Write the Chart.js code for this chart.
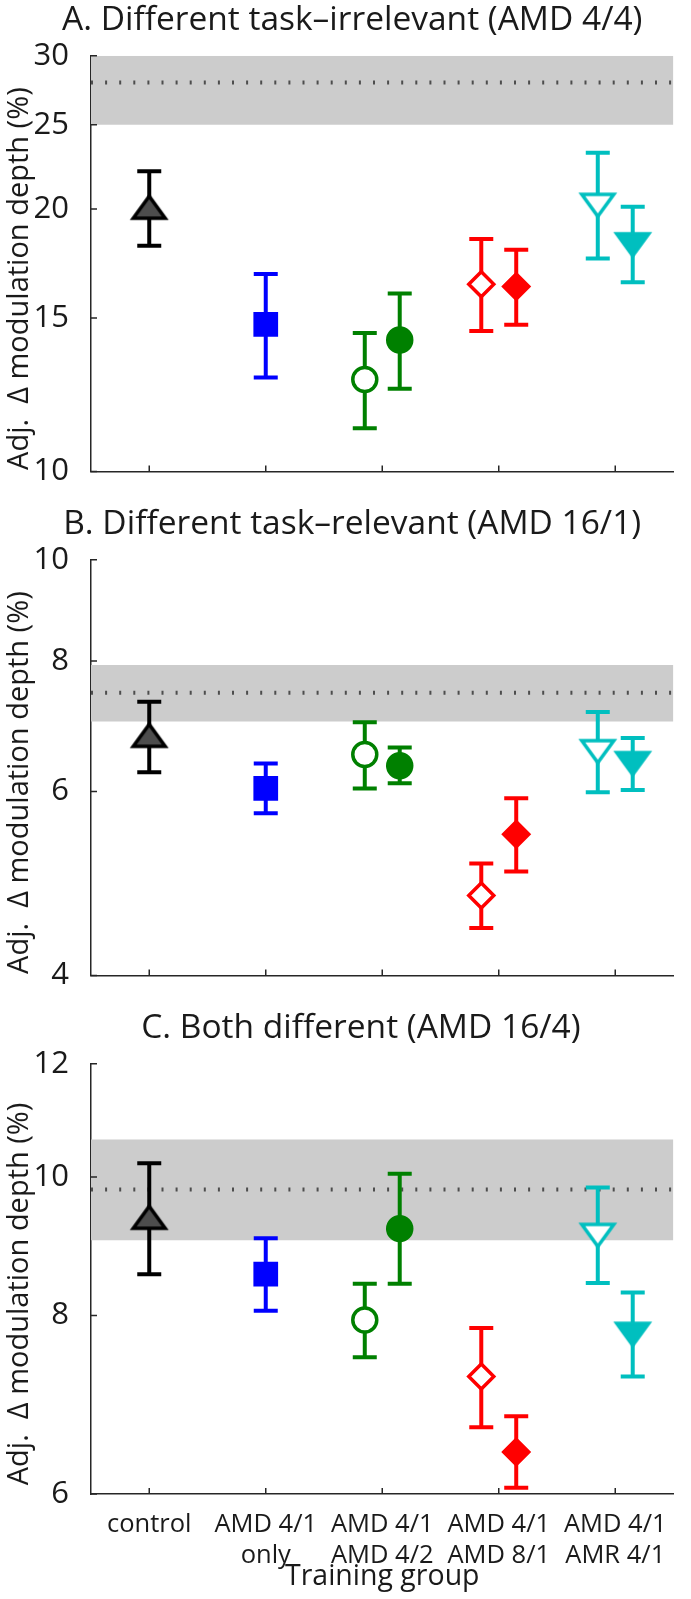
<!DOCTYPE html>
<html>
<head>
<meta charset="utf-8">
<script src="https://cdn.jsdelivr.net/npm/chart.js@4.4.1/dist/chart.umd.min.js"></script>
<style>
  body { margin: 0; background: #fff; width: 691px; height: 1599px; position: relative; overflow: hidden; }
  .panel { position: absolute; left: 0; width: 691px; }
</style>
</head>
<body>
<div class="panel" style="top:0;height:504px"><canvas id="chartA"></canvas></div>
<div class="panel" style="top:504px;height:504px"><canvas id="chartB"></canvas></div>
<div class="panel" style="top:1008px;height:591px"><canvas id="chartC"></canvas></div>
<script>
// categories (x = 1..5), markers sit at group + shift
const groupLabels = ["control", ["AMD 4/1", "only"], ["AMD 4/1", "AMD 4/2"], ["AMD 4/1", "AMD 8/1"], ["AMD 4/1", "AMR 4/1"]];
const markerGroup = [1, 2, 3, 3, 4, 4, 5, 5];
const markerShift = [0, 0, -0.15, 0.15, -0.15, 0.15, -0.15, 0.15];

// A. Different task-irrelevant (AMD 4/4)
const meanA = [20.1, 14.75, 12.75, 14.15, 16.4, 16.3, 20.2, 18.2];
const lowA = [18.16, 12.82, 11.21, 12.44, 14.49, 14.73, 17.55, 16.49];
const highA = [22.1, 16.85, 14.42, 16.0, 18.48, 17.96, 23.22, 20.12];
const bandA = [25, 30];
const refA = 27.95;
const ticksA = [10, 15, 20, 25, 30];

// B. Different task-relevant (AMD 16/1)
const meanB = [6.79, 6.04, 6.51, 6.35, 4.77, 5.46, 6.55, 6.38];
const lowB = [6.26, 5.72, 6.04, 6.11, 4.44, 5.03, 5.99, 6.02];
const highB = [7.31, 6.38, 6.99, 6.61, 5.12, 5.91, 7.15, 6.75];
const bandB = [7.0, 7.93];
const refB = 7.46;
const ticksB = [4, 6, 8, 10];

// C. Both different (AMD 16/4)
const meanC = [9.37, 8.55, 7.94, 9.2, 7.25, 6.42, 9.1, 7.76];
const lowC = [8.55, 8.06, 7.48, 8.42, 6.68, 6.06, 8.43, 7.25];
const highC = [10.22, 9.06, 8.42, 10.05, 7.84, 6.80, 9.83, 8.30];
const bandC = [9.03, 10.62];
const refC = 9.80;
const ticksC = [6, 8, 10, 12];

const FONT = "'Open Sans', sans-serif";
const AXIS = "#262626";
const TEXT = "#1a1a1a";
const YTITLE = "Adj.  \u0394 modulation depth (%)";
Chart.defaults.font.family = FONT;
Chart.defaults.color = AXIS;

const titleSize = 33.5;
const yTitleSize = 29;
const yTickSize = 31;
const xTickSize = 25.5;
const xTitleSize = 28.5;

function triangleMarker(down, fill, stroke) {
  const c = document.createElement("canvas");
  c.width = 48; c.height = 40;
  const g = c.getContext("2d");
  const w = 32, h = 22, cx = 24, cy = 20;
  g.beginPath();
  if (down) {
    g.moveTo(cx, cy + h / 2); g.lineTo(cx + w / 2, cy - h / 2); g.lineTo(cx - w / 2, cy - h / 2);
  } else {
    g.moveTo(cx, cy - h / 2); g.lineTo(cx + w / 2, cy + h / 2); g.lineTo(cx - w / 2, cy + h / 2);
  }
  g.closePath();
  g.fillStyle = fill; g.fill();
  g.lineWidth = 3.5; g.strokeStyle = stroke; g.stroke();
  return c;
}

const colors = ["#000000", "#0000ff", "#008000", "#008000", "#ff0000", "#ff0000", "#00bfbf", "#00bfbf"];
const styles = [
  triangleMarker(false, "#4d4d4d", "#000000"),
  "rect", "circle", "circle", "rectRot", "rectRot",
  triangleMarker(true, "#ffffff", "#00bfbf"),
  triangleMarker(true, "#00bfbf", "#00bfbf")
];
const radii = [14, 15, 12, 12, 12.5, 12.5, 14, 14];
const fills = ["#4d4d4d", "#0000ff", "#ffffff", "#008000", "#ffffff", "#ff0000", "#ffffff", "#00bfbf"];

const innerTicks = {
  id: "innerTicks",
  afterDraw(chart) {
    const { ctx, chartArea, scales: { x, y } } = chart;
    ctx.save();
    ctx.strokeStyle = AXIS;
    ctx.lineWidth = 1.5;
    ctx.beginPath();
    y.ticks.forEach(t => {
      const py = y.getPixelForValue(t.value);
      ctx.moveTo(chartArea.left, py); ctx.lineTo(chartArea.left + 6, py);
    });
    x.ticks.forEach(t => {
      const px = x.getPixelForValue(t.value);
      ctx.moveTo(px, chartArea.bottom); ctx.lineTo(px, chartArea.bottom - 6);
    });
    ctx.stroke();
    ctx.restore();
  }
};

function makePanel(id, title, mean, low, high, band, ref, yTicks, showX) {
  const errorSets = mean.map((v, i) => {
    const xv = markerGroup[i] + markerShift[i];
    return {
      data: [{ x: xv, y: low[i] }, { x: xv, y: high[i] }],
      borderColor: colors[i], borderWidth: 4,
      pointStyle: "line", pointRadius: 12, pointBorderColor: colors[i], pointBorderWidth: 4,
      order: 2
    };
  });
  const datasets = [
    {
      data: [{ x: 0.5, y: band[1] }, { x: 5.5, y: band[1] }],
      fill: { value: band[0] }, backgroundColor: "#cccccc", borderWidth: 0, pointRadius: 0, order: 4
    },
    {
      data: [{ x: 0.5, y: ref }, { x: 5.5, y: ref }],
      borderColor: "#4d4d4d", borderWidth: 4, borderDash: [2, 12.1], pointRadius: 0, order: 3
    },
    ...errorSets,
    {
      data: mean.map((v, i) => ({ x: markerGroup[i] + markerShift[i], y: v })),
      showLine: false,
      pointStyle: styles, pointRadius: radii,
      pointBackgroundColor: fills, pointBorderColor: colors, pointBorderWidth: 3.5,
      order: 0
    }
  ];

  const titleLine = titleSize * 1.2;
  const yLine = yTitleSize * 1.2;
  const xTitleLine = xTitleSize * 1.2;
  new Chart(document.getElementById(id), {
    type: "line",
    data: { datasets },
    plugins: [innerTicks],
    options: {
      responsive: true,
      maintainAspectRatio: false,
      animation: false,
      events: [],
      layout: { padding: { left: 0, right: 4, top: 0, bottom: showX ? 0 : 19 } },
      plugins: {
        legend: { display: false },
        tooltip: { enabled: false },
        title: {
          display: true, text: title, color: TEXT,
          font: { size: titleSize, weight: "normal", lineHeight: 1.2 },
          padding: { top: Math.max(0, 20 - titleLine / 2), bottom: 55.7 - Math.max(0, 20 - titleLine / 2) - titleLine }
        }
      },
      scales: {
        x: {
          type: "linear", min: 0.5, max: 5.5,
          afterBuildTicks: s => { s.ticks = groupLabels.map((_, i) => ({ value: i + 1 })); },
          ticks: {
            display: showX, autoSkip: false, maxRotation: 0, padding: 7,
            font: { size: xTickSize, lineHeight: 31.3 / xTickSize }, color: TEXT,
            callback: (v, i) => groupLabels[i]
          },
          grid: { display: false },
          border: { color: AXIS, width: 1.5 },
          title: {
            display: showX, text: "Training group", color: TEXT,
            font: { size: xTitleSize, lineHeight: 1.2 }, padding: { top: 0, bottom: Math.max(0, 22.3 - xTitleLine / 2) }
          },
          afterFit: s => { s.height = showX ? 105 : 0; }
        },
        y: {
          type: "logarithmic", min: yTicks[0], max: yTicks[yTicks.length - 1],
          afterBuildTicks: s => { s.ticks = yTicks.map(v => ({ value: v })); },
          ticks: { padding: 14, font: { size: yTickSize }, color: TEXT, callback: v => String(v) },
          grid: { display: false },
          border: { color: AXIS, width: 1.5 },
          title: {
            display: true, text: YTITLE + "\u00a0\u00a0\u00a0\u00a0", color: TEXT,
            font: { size: yTitleSize, lineHeight: 1.2 }, padding: { top: Math.max(0, 20 - yLine / 2), bottom: 0 }
          },
          afterFit: s => { s.width = 91; }
        }
      }
    }
  });
}

makePanel("chartA", "\u00a0\u00a0A. Different task\u2013irrelevant (AMD 4/4)", meanA, lowA, highA, bandA, refA, ticksA, false);
makePanel("chartB", "\u00a0\u00a0B. Different task\u2013relevant (AMD 16/1)", meanB, lowB, highB, bandB, refB, ticksB, false);
makePanel("chartC", "\u00a0\u00a0\u00a0\u00a0C. Both different (AMD 16/4)", meanC, lowC, highC, bandC, refC, ticksC, true);
</script>
</body>
</html>
